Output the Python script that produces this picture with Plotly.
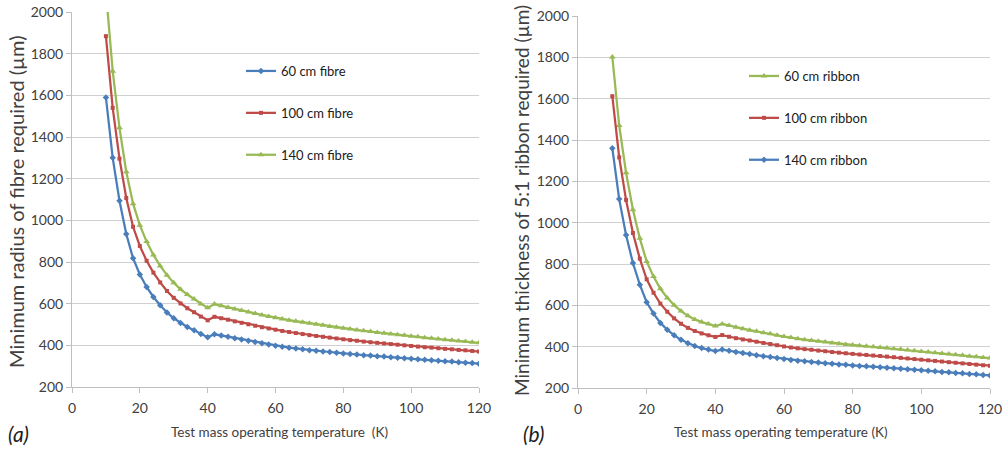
import plotly.graph_objects as go

# Temperatures (K)
temps = list(range(10, 121, 2))

# Panel (a): minimum fibre radius (µm)
fibre_60 = [1590, 1300, 1094, 934, 818, 740, 680, 632, 592, 558, 530, 507, 488, 472, 454, 439,
            453, 447, 441, 434, 428, 422, 416, 410, 404, 398, 393, 389, 385, 381, 377, 374, 371,
            368, 365, 361, 358, 356, 353, 351, 348, 346, 343, 341, 338, 336, 333, 331, 329, 326,
            324, 322, 319, 317, 315, 312]
fibre_100 = [1884, 1540, 1296, 1107, 969, 877, 806, 749, 702, 661, 628, 601, 578, 559, 538, 520,
             537, 530, 523, 515, 508, 501, 494, 487, 481, 475, 469, 464, 459, 454, 449, 445, 441,
             437, 433, 429, 425, 422, 418, 415, 412, 409, 406, 403, 400, 397, 394, 391, 389, 386,
             383, 381, 378, 376, 373, 370]
fibre_140 = [2099, 1716, 1444, 1233, 1080, 977, 898, 834, 781, 737, 700, 669, 644, 623, 599, 580,
             598, 590, 582, 574, 567, 560, 553, 546, 539, 533, 527, 521, 516, 511, 506, 501, 496,
             491, 487, 482, 478, 474, 470, 466, 462, 458, 455, 451, 448, 444, 441, 437, 434, 431,
             427, 424, 421, 418, 415, 412]

# Panel (b): minimum thickness of 5:1 ribbon (µm)
ribbon_60 = [1802, 1470, 1241, 1063, 924, 812, 739, 680, 636, 601, 572, 549, 532, 519, 510, 500,
             510, 502, 494, 487, 480, 474, 467, 462, 455, 449, 444, 438, 434, 430, 426, 422, 418,
             414, 411, 408, 405, 402, 399, 396, 393, 390, 387, 384, 380, 377, 374, 371, 367, 364,
             361, 358, 354, 351, 348, 345]
ribbon_100 = [1612, 1316, 1110, 950, 826, 726, 661, 608, 569, 537, 511, 491, 476, 464, 455, 447,
              456, 448, 441, 435, 430, 424, 418, 413, 407, 401, 396, 392, 388, 385, 381, 378, 374,
              371, 368, 365, 362, 360, 357, 355, 352, 349, 346, 343, 340, 337, 334, 331, 328, 325,
              322, 319, 316, 313, 310, 308]
ribbon_140 = [1360, 1114, 940, 805, 700, 615, 560, 515, 482, 455, 433, 416, 403, 393, 386, 379,
              386, 380, 374, 369, 364, 359, 354, 350, 345, 340, 336, 332, 329, 326, 323, 320, 317,
              314, 312, 309, 307, 305, 303, 301, 298, 296, 293, 291, 288, 286, 283, 281, 278, 276,
              273, 271, 268, 266, 263, 261]

x_ticks = [0, 20, 40, 60, 80, 100, 120]
y_ticks = [200, 400, 600, 800, 1000, 1200, 1400, 1600, 1800, 2000]

x_title_a = "Test mass operating temperature  (K)"
y_title_a = "Minimum radius of fibre required (µm)"
x_title_b = "Test mass operating temperature (K)"
y_title_b = "Minimum thickness of 5:1 ribbon required (µm)"

BLUE = "#4a7ebb"
RED = "#be4b48"
GREEN = "#98b954"
FONT = "Lato, 'Open Sans', sans-serif"
TXT = "#404040"

fig = go.Figure()

def add(x, y, name, color, symbol, size, xa, ya, legend, grp):
    fig.add_trace(go.Scatter(
        x=x, y=y, name=name, mode="lines+markers",
        line=dict(color=color, width=2.25),
        marker=dict(symbol=symbol, size=size, color=color),
        xaxis=xa, yaxis=ya, legend=legend, legendgroup=grp,
    ))

add(temps, fibre_60, "60 cm fibre", BLUE, "diamond", 5, "x", "y", "legend", "a1")
add(temps, fibre_100, "100 cm fibre", RED, "square", 4, "x", "y", "legend", "a2")
add(temps, fibre_140, "140 cm fibre", GREEN, "triangle-up", 6, "x", "y", "legend", "a3")
add(temps, ribbon_60, "60 cm ribbon", GREEN, "triangle-up", 6, "x2", "y2", "legend2", "b1")
add(temps, ribbon_100, "100 cm ribbon", RED, "square", 4, "x2", "y2", "legend2", "b2")
add(temps, ribbon_140, "140 cm ribbon", BLUE, "diamond", 5, "x2", "y2", "legend2", "b3")

W, H = 1004, 450
def px(v): return v / W
def py(v): return 1 - v / H

xcommon = dict(range=[0, 120], tickvals=x_ticks, showgrid=False, showline=True,
               linecolor="#bfbfbf", linewidth=1, ticks="outside", ticklen=5,
               tickcolor="#bfbfbf", zeroline=False, automargin=False,
               ticklabelstandoff=3,
               tickfont=dict(family=FONT, size=14, color=TXT))
ycommon = dict(range=[200, 2000], tickvals=y_ticks, showgrid=True, gridcolor="#d0d0d0",
               gridwidth=1, showline=True, linecolor="#bfbfbf", linewidth=1,
               ticks="outside", ticklen=5, tickcolor="#bfbfbf", zeroline=False,
               automargin=False,
               tickfont=dict(family=FONT, size=14, color=TXT))

legcommon = dict(font=dict(family=FONT, size=13, color="#202020"), bgcolor="rgba(0,0,0,0)",
                 tracegroupgap=22, itemwidth=30, xanchor="left", yanchor="top")

def note(text, x, y, size, angle=0, color=TXT, xanchor="center"):
    return dict(text=text, x=px(x), y=py(y), xref="paper", yref="paper",
                xanchor=xanchor, yanchor="middle", showarrow=False, textangle=angle,
                font=dict(family=FONT, size=size, color=color))

fig.update_layout(
    width=W, height=H, margin=dict(l=0, r=0, t=0, b=0, pad=0, autoexpand=False),
    paper_bgcolor="white", plot_bgcolor="white",
    font=dict(family=FONT, color=TXT),
    xaxis=dict(domain=[px(72), px(479)], anchor="y", **xcommon),
    yaxis=dict(domain=[py(387), py(12)], anchor="x", **ycommon),
    xaxis2=dict(domain=[px(578), px(990)], anchor="y2", **xcommon),
    yaxis2=dict(domain=[py(388), py(16)], anchor="x2", **ycommon),
    legend=dict(x=px(241), y=py(56), **legcommon),
    legend2=dict(x=px(744), y=py(61), **legcommon),
    annotations=[
        note(x_title_a, 279, 432, 13.5),
        note(x_title_b, 781, 432, 13.5),
        note(y_title_a, 16, 202, 20, angle=-90),
        note(y_title_b, 521, 201, 19, angle=-90),
        note("<i>(a)</i>", 6, 433, 21, color="#202020", xanchor="left"),
        note("<i>(b)</i>", 521, 433, 21, color="#202020", xanchor="left"),
    ],
)

fig.write_html(
    "out.html",
    config={"displayModeBar": False},
    post_script="document.body.style.margin='0';document.body.style.overflow='hidden';",
)
